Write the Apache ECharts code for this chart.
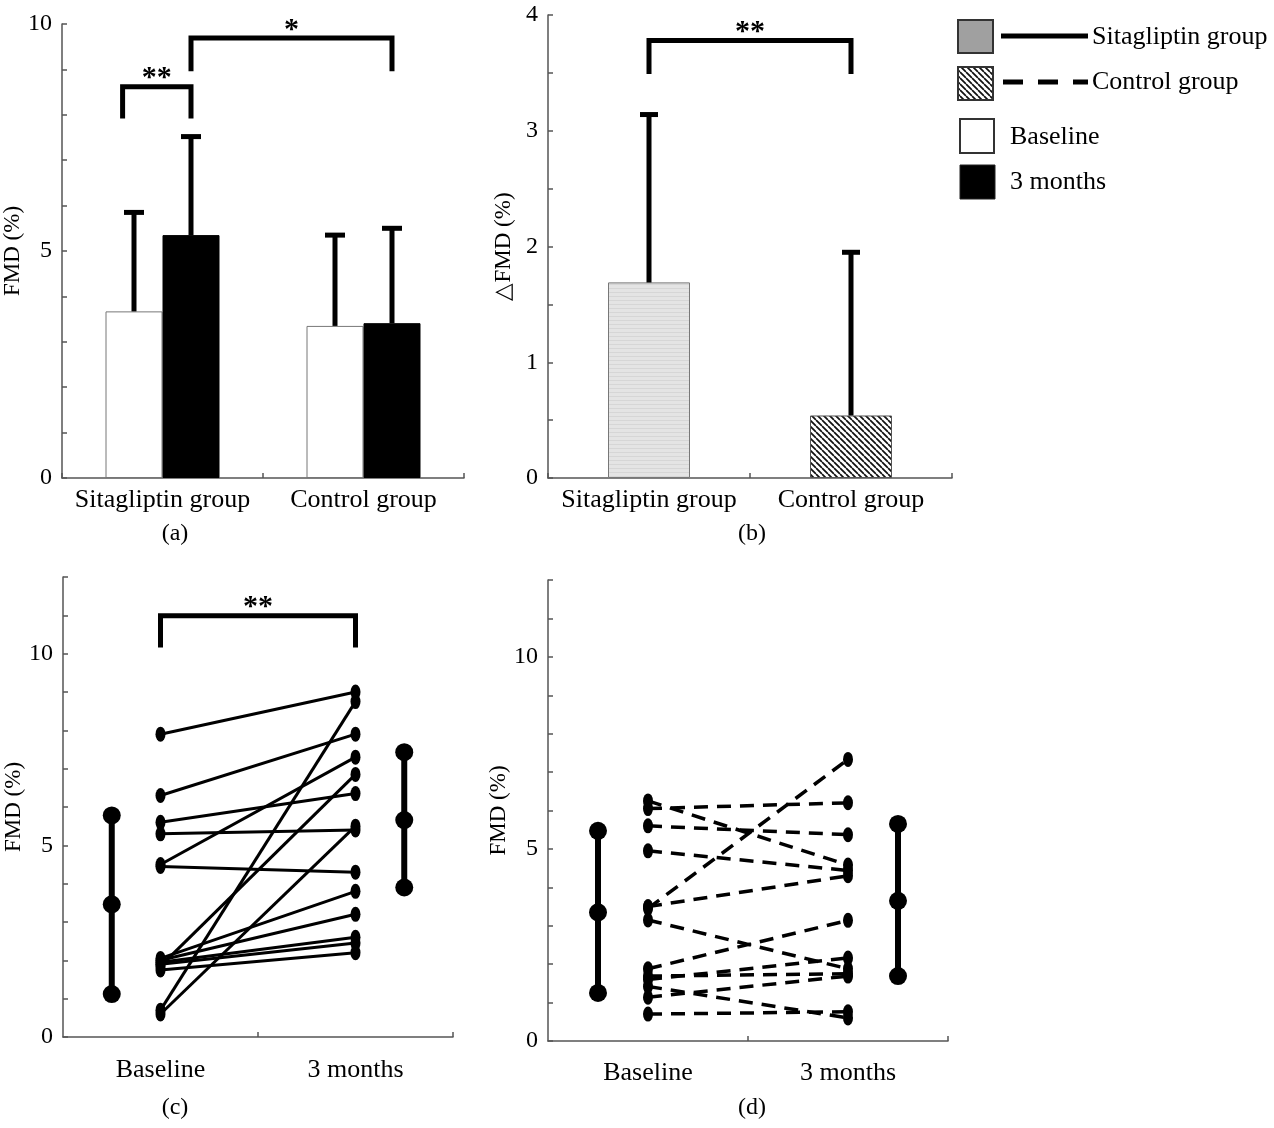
<!DOCTYPE html>
<html>
<head>
<meta charset="utf-8">
<script src="https://cdn.jsdelivr.net/npm/echarts@6/dist/echarts.min.js"></script>
<style>html,body{margin:0;padding:0;background:#fff}#c{width:1274px;height:1128px}</style>
</head>
<body>
<div id="c"></div>
<script>
// ---------------- data ----------------
const groups = ['Sitagliptin group', 'Control group'];
const timeLabels = ['Baseline', '3 months'];
const yTicksFMD = [0, 5, 10];
const yTicksDelta = [0, 1, 2, 3, 4];

// (a) FMD mean and SD
const fmdBaseMean = [3.67, 3.35];
const fmdBaseSD = [2.18, 2.00];
const fmd3mMean = [5.35, 3.41];
const fmd3mSD = [2.17, 2.09];

// (b) delta FMD mean and SD
const deltaMean = [1.69, 0.54];
const deltaSD = [1.45, 1.41];

// significance brackets
const bracketsA = [
  { from: ['Sitagliptin group', 'Baseline'], to: ['Sitagliptin group', '3 months'], top: 8.62, leg: 7.92, mark: '**' },
  { from: ['Sitagliptin group', '3 months'], to: ['Control group', '3 months'], top: 9.69, leg: 8.96, mark: '*' }
];
const bracketsB = [
  { from: 'Sitagliptin group', to: 'Control group', top: 3.78, leg: 3.49, mark: '**' }
];
const bracketsC = [
  { from: 'Baseline', to: '3 months', top: 10.99, leg: 10.16, mark: '**' }
];

// (c) individual sitagliptin subjects
const sitaBaseline = [7.9, 6.3, 5.6, 5.3, 4.5, 4.45, 2.05, 2.0, 1.95, 1.9, 1.75, 1.85, 0.7, 0.6];
const sita3m       = [9.0, 7.9, 6.35, 5.4, 7.3, 4.3, 3.8, 3.2, 2.6, 2.45, 2.2, 6.85, 8.75, 5.5];
const sitaSummaryBaseline = [1.12, 3.46, 5.78]; // mean-SD, mean, mean+SD
const sitaSummary3m = [3.90, 5.66, 7.43];

// (d) individual control subjects
const ctrlBaseline = [3.45, 6.05, 6.25, 5.6, 4.95, 3.5, 3.15, 1.88, 1.69, 1.6, 1.42, 1.14, 0.7];
const ctrl3m       = [7.33, 6.2, 4.58, 5.37, 4.44, 4.3, 1.88, 3.14, 1.75, 2.16, 0.6, 1.69, 0.76];
const ctrlSummaryBaseline = [1.25, 3.35, 5.47];
const ctrlSummary3m = [1.69, 3.65, 5.65];

// ---------------- layout / style ----------------
const FONT = '"Liberation Serif", "Times New Roman", serif';
const AXIS_COLOR = '#555';
const BAR_A = 57, BAR_B = 82;
const timeX = { 'Baseline': 1, '3 months': 3 };
const SUMMARY_SHIFT = 0.5;

function makePattern(size, draw) {
  const c = document.createElement('canvas');
  c.width = size; c.height = size;
  draw(c.getContext('2d'), size);
  return c;
}
const hatchCanvas = makePattern(6, (g, s) => {
  g.fillStyle = '#fff'; g.fillRect(0, 0, s, s);
  g.strokeStyle = '#111'; g.lineWidth = 1.7;
  g.beginPath();
  for (let k = -s; k <= s; k += s) { g.moveTo(k, 0); g.lineTo(k + s, s); }
  g.stroke();
});
const grayCanvas = makePattern(4, (g, s) => {
  g.fillStyle = '#e4e4e4'; g.fillRect(0, 0, s, s);
  g.fillStyle = '#d6d6d6'; g.fillRect(0, 0, s, 1);
});
const hatchFill = { image: hatchCanvas, repeat: 'repeat' };
const grayFill = { image: grayCanvas, repeat: 'repeat' };

const axisLine = { show: true, lineStyle: { color: AXIS_COLOR, width: 1.5 } };
const axisTickBase = { show: true, inside: true, length: 5, lineStyle: { color: AXIS_COLOR, width: 1.5 } };

function yAxis(grid, max, interval, ticks, name, nameGap) {
  return {
    type: 'value', gridIndex: grid, min: 0, max: max, interval: interval,
    name: name, nameLocation: 'middle', nameGap: nameGap, nameRotate: 90,
    nameTextStyle: { fontFamily: FONT, fontSize: 23, color: '#000' },
    axisLine: axisLine, axisTick: axisTickBase,
    axisLabel: { fontFamily: FONT, fontSize: 24, color: '#000', margin: 10,
      formatter: v => ticks.indexOf(Math.round(v * 1000) / 1000) >= 0 ? String(v) : '' },
    splitLine: { show: false }
  };
}
function catAxis(grid) {
  return {
    type: 'category', gridIndex: grid, data: groups,
    axisLine: axisLine, axisTick: Object.assign({}, axisTickBase, { interval: 0 }),
    axisLabel: { fontFamily: FONT, fontSize: 26, color: '#000', margin: 9, interval: 0 },
    splitLine: { show: false }
  };
}
function timeAxis(grid, margin) {
  return {
    type: 'value', gridIndex: grid, min: 0, max: 4,
    axisLine: axisLine,
    axisTick: Object.assign({}, axisTickBase, { customValues: [2, 4] }),
    axisLabel: { fontFamily: FONT, fontSize: 26, color: '#000', margin: margin,
      customValues: [timeX['Baseline'], timeX['3 months']],
      formatter: v => v === timeX['Baseline'] ? timeLabels[0] : (v === timeX['3 months'] ? timeLabels[1] : '') },
    splitLine: { show: false }
  };
}

function errSeries(axis, means, sds, dx, capW) {
  return {
    type: 'custom', xAxisIndex: axis, yAxisIndex: axis, z: 4, silent: true,
    data: means.map((m, i) => [i, m, sds[i]]),
    renderItem: (params, api) => {
      const c = api.value(0), m = api.value(1), s = api.value(2);
      const p0 = api.coord([c, m]);
      const p1 = api.coord([c, m + s]);
      const x = p0[0] + dx;
      return { type: 'group', children: [
        { type: 'line', shape: { x1: x, y1: p0[1], x2: x, y2: p1[1] }, style: { stroke: '#000', lineWidth: 5 } },
        { type: 'line', shape: { x1: x - capW / 2, y1: p1[1], x2: x + capW / 2, y2: p1[1] }, style: { stroke: '#000', lineWidth: 5 } }
      ] };
    }
  };
}

function bracketSeries(axis, items, toX, toOffset) {
  return {
    type: 'custom', xAxisIndex: axis, yAxisIndex: axis, z: 6, silent: true,
    data: items.map(b => [toX(b.from), toX(b.to), b.top, b.leg]),
    renderItem: (params, api) => {
      const b = items[params.dataIndex];
      const pA = api.coord([api.value(0), api.value(2)]);
      const pB = api.coord([api.value(1), api.value(2)]);
      const legY = api.coord([api.value(0), api.value(3)])[1];
      const x1 = pA[0] + toOffset(b.from), x2 = pB[0] + toOffset(b.to), y = pA[1];
      return { type: 'group', children: [
        { type: 'polyline', shape: { points: [[x1, legY], [x1, y], [x2, y], [x2, legY]] },
          style: { stroke: '#000', lineWidth: 5, fill: null, lineJoin: 'miter' } },
        { type: 'text', style: { text: b.mark, x: (x1 + x2) / 2, y: y - 8, align: 'center', verticalAlign: 'middle',
          font: 'bold 30px ' + FONT, fill: '#000' } }
      ] };
    }
  };
}

function subjectSeries(axis, base, after, dashed) {
  return base.map((b, i) => ({
    type: 'line', xAxisIndex: axis, yAxisIndex: axis, silent: true, z: 3,
    data: [[timeX['Baseline'], b], [timeX['3 months'], after[i]]],
    symbol: 'circle', symbolSize: [10, 15],
    itemStyle: { color: '#000' },
    lineStyle: { color: '#000', width: dashed ? 3.5 : 3, type: dashed ? [14, 9] : 'solid' }
  }));
}
function summarySeries(axis, vals, x) {
  return {
    type: 'line', xAxisIndex: axis, yAxisIndex: axis, silent: true, z: 3,
    data: vals.map(v => [x, v]),
    symbol: 'circle', symbolSize: 18,
    itemStyle: { color: '#000' }, lineStyle: { color: '#000', width: 6 }
  };
}

// ---------------- chart ----------------
const chart = echarts.init(document.getElementById('c'), null, { renderer: 'canvas' });

const legendFont = '26px ' + FONT;
const graphics = [
  { type: 'rect', shape: { x: 958, y: 20, width: 35, height: 33 }, style: { fill: '#a0a0a0', stroke: '#333', lineWidth: 2 } },
  { type: 'line', shape: { x1: 1001, y1: 36, x2: 1088, y2: 36 }, style: { stroke: '#000', lineWidth: 5 } },
  { type: 'text', x: 1092, y: 37, style: { text: groups[0], font: legendFont, fill: '#000', verticalAlign: 'middle' } },
  { type: 'rect', shape: { x: 958, y: 67, width: 35, height: 33 }, style: { fill: hatchFill, stroke: '#333', lineWidth: 2 } },
  { type: 'line', shape: { x1: 1003, y1: 82, x2: 1088, y2: 82 }, style: { stroke: '#000', lineWidth: 5, lineDash: [20, 15] } },
  { type: 'text', x: 1092, y: 82, style: { text: groups[1], font: legendFont, fill: '#000', verticalAlign: 'middle' } },
  { type: 'rect', shape: { x: 960, y: 119, width: 34, height: 34 }, style: { fill: '#fff', stroke: '#333', lineWidth: 2 } },
  { type: 'text', x: 1010, y: 137, style: { text: timeLabels[0], font: legendFont, fill: '#000', verticalAlign: 'middle' } },
  { type: 'rect', shape: { x: 960, y: 165, width: 35, height: 34 }, style: { fill: '#000', stroke: '#222', lineWidth: 1 } },
  { type: 'text', x: 1010, y: 182, style: { text: timeLabels[1], font: legendFont, fill: '#000', verticalAlign: 'middle' } }
];
[['(a)', 175, 534], ['(b)', 752, 534], ['(c)', 175, 1108], ['(d)', 752, 1108]].forEach(t => {
  graphics.push({ type: 'text', x: t[1], y: t[2], style: { text: t[0], font: '24px ' + FONT, fill: '#000', align: 'center', verticalAlign: 'middle' } });
});

const option = {
  animation: false,
  backgroundColor: '#fff',
  textStyle: { fontFamily: FONT },
  grid: [
    { left: 62, top: 24, width: 402, height: 454 },
    { left: 548, top: 15, width: 404, height: 463 },
    { left: 63, top: 577, width: 390, height: 460 },
    { left: 548, top: 580, width: 400, height: 461 }
  ],
  xAxis: [catAxis(0), catAxis(1), timeAxis(2, 20), timeAxis(3, 19)],
  yAxis: [
    yAxis(0, 10, 1, yTicksFMD, 'FMD (%)', 36),
    yAxis(1, 4, 0.5, yTicksDelta, '\u25B3FMD (%)', 33),
    yAxis(2, 12, 1, yTicksFMD, 'FMD (%)', 37),
    yAxis(3, 12, 1, yTicksFMD, 'FMD (%)', 34)
  ],
  graphic: graphics,
  series: [
    { type: 'bar', name: timeLabels[0], xAxisIndex: 0, yAxisIndex: 0, data: fmdBaseMean,
      barWidth: BAR_A, barGap: '0%', itemStyle: { color: '#fff', borderColor: '#777', borderWidth: 1 } },
    { type: 'bar', name: timeLabels[1], xAxisIndex: 0, yAxisIndex: 0, data: fmd3mMean,
      barWidth: BAR_A, barGap: '0%', itemStyle: { color: '#000', borderColor: '#000', borderWidth: 1 } },
    errSeries(0, fmdBaseMean, fmdBaseSD, -BAR_A / 2, 20),
    errSeries(0, fmd3mMean, fmd3mSD, BAR_A / 2, 20),
    bracketSeries(0, bracketsA, f => groups.indexOf(f[0]), f => (f[1] === timeLabels[0] ? -1.4 : 1) * BAR_A / 2),

    { type: 'bar', name: '\u0394FMD', xAxisIndex: 1, yAxisIndex: 1, barWidth: BAR_B,
      data: [
        { value: deltaMean[0], itemStyle: { color: grayFill, borderColor: '#777', borderWidth: 1 } },
        { value: deltaMean[1], itemStyle: { color: hatchFill, borderColor: '#555', borderWidth: 1 } }
      ] },
    errSeries(1, deltaMean, deltaSD, 0, 18),
    bracketSeries(1, bracketsB, f => groups.indexOf(f), f => 0),

    ...subjectSeries(2, sitaBaseline, sita3m, false),
    summarySeries(2, sitaSummaryBaseline, timeX['Baseline'] - SUMMARY_SHIFT),
    summarySeries(2, sitaSummary3m, timeX['3 months'] + SUMMARY_SHIFT),
    bracketSeries(2, bracketsC, f => timeX[f], f => 0),

    ...subjectSeries(3, ctrlBaseline, ctrl3m, true),
    summarySeries(3, ctrlSummaryBaseline, timeX['Baseline'] - SUMMARY_SHIFT),
    summarySeries(3, ctrlSummary3m, timeX['3 months'] + SUMMARY_SHIFT)
  ]
};
chart.setOption(option);
</script>
</body>
</html>
